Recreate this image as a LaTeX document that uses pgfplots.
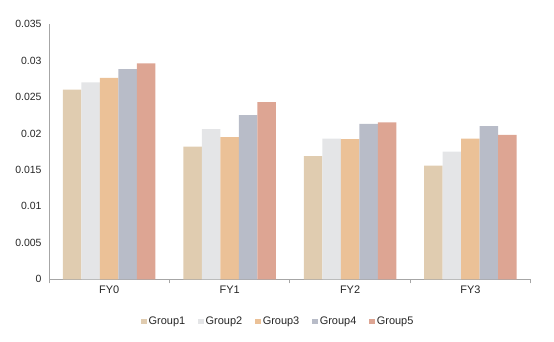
\documentclass[border=0pt]{standalone}
\usepackage{pgfplots}
\pgfplotsset{compat=1.18}
\usepackage{fontspec}
\setmainfont{Liberation Sans}
\definecolor{gA}{HTML}{E0CCB0}
\definecolor{gB}{HTML}{E4E5E7}
\definecolor{gC}{HTML}{EBC197}
\definecolor{gD}{HTML}{B8BCC8}
\definecolor{gE}{HTML}{DDA593}
\definecolor{axgray}{HTML}{A6A6A6}
\begin{document}
\begin{tikzpicture}
\path[use as bounding box] (-49bp,-62.7bp) rectangle (505bp,279.3bp);
\begin{axis}[
  at={(0,0)}, anchor=south west,
  scale only axis, width=481.7bp, height=255.3bp,
  xmin=-0.5, xmax=3.5, ymin=0, ymax=0.035,
  axis x line*=bottom, axis y line*=left,
  axis line style={axgray, line width=0.8pt},
  xtick={0,1,2,3}, xticklabels={FY0,FY1,FY2,FY3},
  minor xtick={-0.5,0.5,1.5,2.5,3.5},
  major tick length=0pt, minor tick length=4bp,
  tick align=outside, tick style={axgray, line width=0.8pt},
  scaled y ticks=false,
  ytick={0,0.005,0.01,0.015,0.02,0.025,0.03,0.035},
  yticklabels={0,0.005,0.01,0.015,0.02,0.025,0.03,0.035},
  ticklabel style={font=\fontsize{10.5}{12}\selectfont, text=black!85},
  xticklabel style={yshift=-3bp, font=\fontsize{11}{12}\selectfont},
  yticklabel style={xshift=-4bp},
  ybar=0pt, bar width=18.5bp,
  legend columns=5,
  legend style={draw=none, at={(axis description cs:0.476,0)}, anchor=center, yshift=-42bp,
     font=\fontsize{11}{12}\selectfont, text=black!85,
     /tikz/every odd column/.append style={column sep=0bp},
     /tikz/every even column/.append style={column sep=11bp}},
  legend image code/.code={\fill[#1] (0bp,-3bp) rectangle (5.5bp,2.5bp);},
  legend cell align=left,
]
\addplot[fill=gA, draw=none] coordinates {(0,0.0260) (1,0.0182) (2,0.0169) (3,0.0156)};
\addplot[fill=gB, draw=none] coordinates {(0,0.0270) (1,0.0206) (2,0.0193) (3,0.0175)};
\addplot[fill=gC, draw=none] coordinates {(0,0.0276) (1,0.0195) (2,0.0192) (3,0.0193)};
\addplot[fill=gD, draw=none] coordinates {(0,0.0288) (1,0.0225) (2,0.0213) (3,0.0210)};
\addplot[fill=gE, draw=none] coordinates {(0,0.0296) (1,0.0243) (2,0.0215) (3,0.0198)};
\legend{Group1,Group2,Group3,Group4,Group5}
\end{axis}
\end{tikzpicture}
\end{document}
